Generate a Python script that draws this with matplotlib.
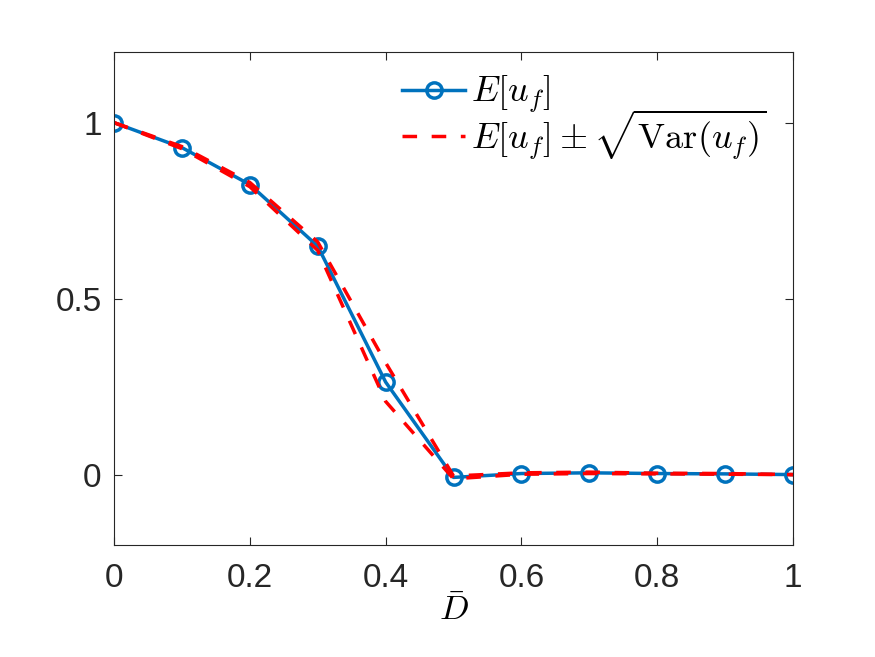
import numpy as np
import matplotlib.pyplot as plt

# values
D = [0.0, 0.1, 0.2, 0.3, 0.4, 0.5, 0.6, 0.7, 0.8, 0.9, 1.0]
mean_uf = [1.0, 0.929, 0.824, 0.649, 0.263, -0.008, 0.003, 0.005, 0.003, 0.002, 0.0]
std_uf = [0.0, 0.003, 0.006, 0.012, 0.055, 0.004, 0.002, 0.002, 0.001, 0.001, 0.0]

plt.rcParams["font.family"] = ["Liberation Sans", "DejaVu Sans"]
plt.rcParams["mathtext.fontset"] = "cm"

fig = plt.figure(figsize=(8.75, 6.57), dpi=100)
ax = fig.add_axes([0.1303, 0.1705, 0.776, 0.750])

m = np.array(mean_uf)
s = np.array(std_uf)

blue = "#0072BD"
ax.plot(D, m, "-o", color=blue, lw=2.5, ms=11, mfc="none", mew=2.5,
        label=r"$E[u_f]$")
ax.plot(D, m + s, color="red", lw=2.5, linestyle=(0, (4.2, 4.2)),
        label=r"$E[u_f] \pm \sqrt{\mathrm{Var}(u_f)}$")
ax.plot(D, m - s, color="red", lw=2.5, linestyle=(0, (4.2, 4.2)))

ax.set_xlim(0, 1)
ax.set_ylim(-0.2, 1.2)
ax.set_xticks([0, 0.2, 0.4, 0.6, 0.8, 1])
ax.set_xticklabels(["0", "0.2", "0.4", "0.6", "0.8", "1"])
ax.set_yticks([0, 0.5, 1])
ax.set_yticklabels(["0", "0.5", "1"])
ax.tick_params(direction="in", top=True, right=True, labelsize=24,
               colors="#262626", length=6, width=0.8)
ax.tick_params(axis="y", pad=9)
ax.tick_params(axis="x", pad=13)
for sp in ax.spines.values():
    sp.set_color("#262626")
    sp.set_linewidth(0.8)

ax.set_xlabel(r"$\bar{D}$", fontsize=25, labelpad=0)

ax.legend(loc="upper left", bbox_to_anchor=(0.443, 0.909),
          bbox_transform=fig.transFigure, frameon=False, fontsize=26,
          handlelength=1.75, handletextpad=0.15, labelspacing=-0.22,
          borderaxespad=0)

fig.savefig("out.png", dpi=100)
